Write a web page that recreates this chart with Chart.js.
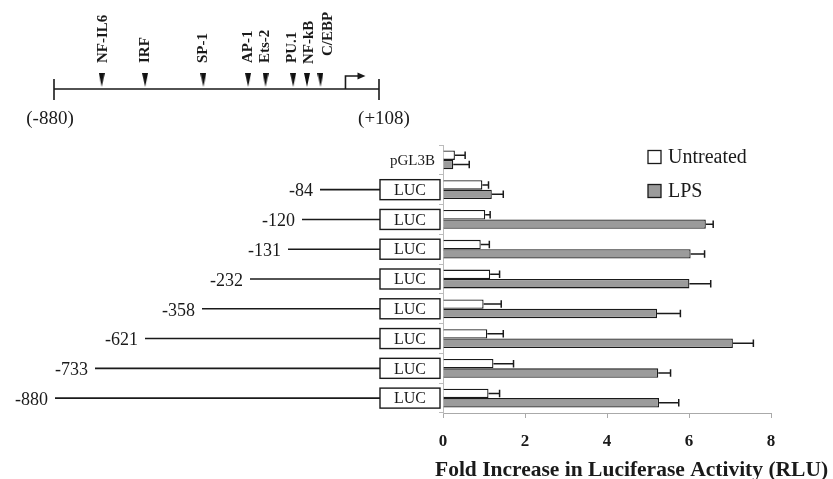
<!DOCTYPE html>
<html>
<head>
<meta charset="utf-8">
<script src="https://cdn.jsdelivr.net/npm/chart.js@4.4.1/dist/chart.umd.min.js"></script>
<style>
body{margin:0;background:#fff;}
#wrap{position:relative;width:833px;height:479px;}
canvas{position:absolute;left:0;top:0;}
</style>
</head>
<body>
<div id="wrap">
<canvas id="barChart" width="833" height="479"></canvas>
<canvas id="mapChart" width="833" height="479"></canvas>
</div>
<script>
// promoter deletion constructs (rows, top to bottom)
const constructs = ['pGL3B','-84','-120','-131','-232','-358','-621','-733','-880'];
const untreated = [0.29, 0.96, 1.03, 0.92, 1.15, 0.99, 1.08, 1.23, 1.11];
const untreatedSD = [0.25, 0.15, 0.12, 0.21, 0.23, 0.43, 0.39, 0.49, 0.27];
const lps = [0.25, 1.19, 6.41, 6.04, 6.01, 5.22, 7.07, 5.25, 5.27];
const lpsSD = [0.39, 0.28, 0.18, 0.34, 0.52, 0.57, 0.50, 0.30, 0.48];
const xTicks = [0, 2, 4, 6, 8];

// promoter map (bp relative to start site)
const siteNames = ['NF-IL6','IRF','SP-1','AP-1','Ets-2','PU.1','NF-kB','C/EBP'];
const sitePos = [-735, -603, -426, -290, -237, -153, -111, -70];
const mapStart = -880;
const mapEnd = 108;

// schematic start of each construct line (px), like in the drawing
const lineStart = [null, 320, 302, 288, 250, 202, 145, 95, 55];
// small nudges of the crowded site labels (px)
const labelShiftX = [1, 0, 0, 0, 0, -1, 2, 8];
const labelShiftY = [0, 0, 0, 0, 0, 0, -1, 7];

const serif = '"Liberation Serif", "Times New Roman", serif';
const ink = '#1a1a1a';

/* ---------- bar chart plugins ---------- */

const errorBars = {
  id: 'errorBars',
  afterDatasetsDraw(chart){
    const ctx = chart.ctx;
    const xs = chart.scales.x;
    [untreatedSD, lpsSD].forEach((sd, di) => {
      const ds = chart.data.datasets[di];
      chart.getDatasetMeta(di).data.forEach((bar, i) => {
        const v = ds.data[i];
        const x0 = xs.getPixelForValue(v);
        const x1 = xs.getPixelForValue(v + sd[i]);
        const h = bar.height * 0.8;
        ctx.save();
        ctx.strokeStyle = ink;
        ctx.lineWidth = 1.5;
        ctx.beginPath();
        ctx.moveTo(x0, bar.y);
        ctx.lineTo(x1, bar.y);
        ctx.moveTo(x1, bar.y - h/2);
        ctx.lineTo(x1, bar.y + h/2);
        ctx.stroke();
        ctx.restore();
      });
    });
  }
};

const constructDrawing = {
  id: 'constructDrawing',
  afterDraw(chart){
    const ctx = chart.ctx;
    const ys = chart.scales.y;
    const left = chart.chartArea.left;
    ctx.save();
    ctx.fillStyle = ink;
    ctx.strokeStyle = ink;
    constructs.forEach((name, i) => {
      const cy = ys.getPixelForValue(i);
      if(i === 0){
        ctx.font = '15px ' + serif;
        ctx.textAlign = 'right';
        ctx.textBaseline = 'middle';
        ctx.fillText(name, left - 8, cy + 1);
        return;
      }
      const bw = 60, bh = 20;
      const bx = left - 3 - bw;
      ctx.lineWidth = 1.6;
      ctx.beginPath();
      ctx.moveTo(lineStart[i], cy);
      ctx.lineTo(bx, cy);
      ctx.stroke();
      ctx.lineWidth = 1.4;
      ctx.strokeRect(bx, cy - bh/2, bw, bh);
      ctx.font = '16px ' + serif;
      ctx.textAlign = 'center';
      ctx.textBaseline = 'middle';
      ctx.fillText('LUC', bx + bw/2, cy + 1);
      ctx.font = '18px ' + serif;
      ctx.textAlign = 'right';
      ctx.fillText(name, lineStart[i] - 7, cy + 2);
    });
    ctx.restore();
  }
};

const sideLegend = {
  id: 'sideLegend',
  afterDraw(chart){
    const ctx = chart.ctx;
    const a = chart.chartArea;
    ctx.save();
    ctx.font = '20px ' + serif;
    ctx.textAlign = 'left';
    ctx.textBaseline = 'middle';
    chart.data.datasets.forEach((ds, i) => {
      const x = a.left + 205;
      const y = a.top + 12 + i * 34;
      ctx.fillStyle = ds.backgroundColor;
      ctx.fillRect(x, y - 6.5, 13, 13);
      ctx.strokeStyle = ink;
      ctx.lineWidth = 1.3;
      ctx.strokeRect(x, y - 6.5, 13, 13);
      ctx.fillStyle = ink;
      ctx.fillText(ds.label, x + 20, y + 1);
    });
    ctx.restore();
  }
};

const axisTitle = {
  id: 'axisTitle',
  afterDraw(chart){
    const ctx = chart.ctx;
    ctx.save();
    ctx.font = 'bold 21.5px ' + serif;
    ctx.fillStyle = ink;
    ctx.textAlign = 'left';
    ctx.textBaseline = 'middle';
    ctx.fillText('Fold Increase in Luciferase Activity (RLU)', chart.chartArea.left - 8, 470);
    ctx.restore();
  }
};

new Chart(document.getElementById('barChart'), {
  type: 'bar',
  data: {
    labels: constructs,
    datasets: [
      { label: 'Untreated', data: untreated, backgroundColor: '#ffffff', borderColor: ink, borderWidth: 1.3 },
      { label: 'LPS', data: lps, backgroundColor: '#9b9b9b', borderColor: ink, borderWidth: 1.3 }
    ]
  },
  options: {
    indexAxis: 'y',
    responsive: false,
    animation: false,
    categoryPercentage: 0.63,
    barPercentage: 1,
    layout: { padding: { left: 439, top: 145, right: 62, bottom: 0 } },
    plugins: { legend: { display: false }, tooltip: { enabled: false } },
    scales: {
      x: {
        min: 0, max: 8,
        afterBuildTicks: s => { s.ticks = xTicks.map(v => ({ value: v })); },
        afterFit: s => { s.height = 66; },
        grid: { display: true, drawOnChartArea: false, drawTicks: true, tickLength: 5, color: '#aaa' },
        border: { color: '#aaa', width: 1 },
        ticks: { color: ink, padding: 13, font: { family: serif, size: 17, weight: 'bold' } }
      },
      y: {
        afterFit: s => { s.width = 4; },
        grid: { display: true, drawOnChartArea: false, drawTicks: true, tickLength: 4, color: '#bbb' },
        border: { color: '#bbb', width: 1 },
        ticks: { display: false }
      }
    }
  },
  plugins: [errorBars, constructDrawing, sideLegend, axisTitle]
});

/* ---------- promoter map ---------- */

const triangle = document.createElement('canvas');
triangle.width = 6;
triangle.height = 14;
(() => {
  const c = triangle.getContext('2d');
  c.fillStyle = '#111';
  c.beginPath();
  c.moveTo(0, 0);
  c.lineTo(6, 0);
  c.lineTo(3, 14);
  c.closePath();
  c.fill();
})();

const mapDrawing = {
  id: 'mapDrawing',
  afterDraw(chart){
    const ctx = chart.ctx;
    const xs = chart.scales.x, ys = chart.scales.y;
    const x0 = xs.getPixelForValue(mapStart);
    const x1 = xs.getPixelForValue(mapEnd);
    const xt = xs.getPixelForValue(0);
    const yl = ys.getPixelForValue(0);
    ctx.save();
    ctx.strokeStyle = ink;
    ctx.fillStyle = ink;
    ctx.lineWidth = 1.6;
    ctx.beginPath();
    ctx.moveTo(x0, yl); ctx.lineTo(x1, yl);
    ctx.moveTo(x0, yl - 10); ctx.lineTo(x0, yl + 11);
    ctx.moveTo(x1, yl - 10); ctx.lineTo(x1, yl + 11);
    // transcription start arrow
    ctx.moveTo(xt + 2, yl); ctx.lineTo(xt + 2, yl - 13); ctx.lineTo(xt + 16, yl - 13);
    ctx.stroke();
    ctx.beginPath();
    ctx.moveTo(xt + 22, yl - 13);
    ctx.lineTo(xt + 14, yl - 16.5);
    ctx.lineTo(xt + 14, yl - 9.5);
    ctx.closePath();
    ctx.fill();

    ctx.font = '19px ' + serif;
    ctx.textAlign = 'center';
    ctx.textBaseline = 'middle';
    ctx.fillText('(' + mapStart + ')', x0 - 4, yl + 30);
    ctx.fillText('(+' + mapEnd + ')', x1 + 5, yl + 30);

    ctx.font = 'bold 15px ' + serif;
    ctx.textAlign = 'left';
    siteNames.forEach((n, i) => {
      const x = xs.getPixelForValue(sitePos[i]);
      ctx.save();
      ctx.translate(x + labelShiftX[i], yl - 26 - labelShiftY[i]);
      ctx.rotate(-Math.PI / 2);
      ctx.fillText(n, 0, 0);
      ctx.restore();
    });
    ctx.restore();
  }
};

new Chart(document.getElementById('mapChart'), {
  type: 'scatter',
  data: {
    datasets: [{
      label: 'sites',
      data: sitePos.map(p => ({ x: p, y: 0.3 })),
      pointStyle: triangle,
      pointRadius: 7
    }]
  },
  options: {
    responsive: false,
    animation: false,
    layout: { padding: { left: 54, right: 454, top: 59, bottom: 360 } },
    plugins: { legend: { display: false }, tooltip: { enabled: false } },
    scales: {
      x: { type: 'linear', min: mapStart, max: mapEnd, display: false },
      y: { min: -1, max: 1, display: false }
    }
  },
  plugins: [mapDrawing]
});
</script>
</body>
</html>
